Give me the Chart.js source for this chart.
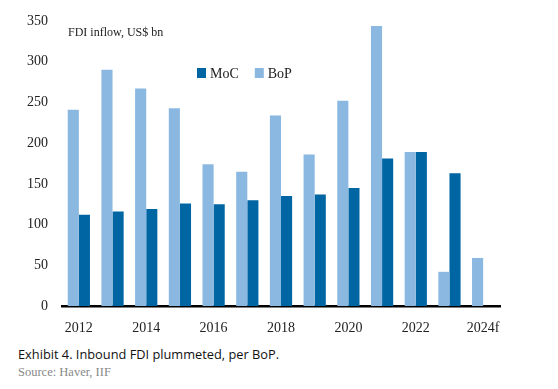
<!DOCTYPE html>
<html lang="en">
<head>
  <meta charset="UTF-8" />
  <title>Inbound FDI</title>
  <script src="https://cdn.jsdelivr.net/npm/chart.js@4.4.1/dist/chart.umd.min.js"></script>
  <style>
    body {
      margin: 0;
      background: #fff;
      width: 558px;
      height: 389px;
      position: relative;
      overflow: hidden;
    }
    .chart-box {
      position: absolute;
      left: 0;
      top: 0;
      width: 558px;
      height: 340px;
    }
    .unit {
      position: absolute;
      left: 68px;
      top: 25px;
      font: 12px 'Liberation Serif', serif;
      color: #222;
    }
    .caption {
      position: absolute;
      left: 18px;
      top: 345px;
      font: 12.8px 'Open Sans', sans-serif;
      color: #111;
    }
    .source {
      position: absolute;
      left: 18px;
      top: 365px;
      font: 12.5px 'Liberation Serif', serif;
      color: #888;
    }
  </style>
</head>
<body>
  <div class="chart-box"><canvas id="fdiChart"></canvas></div>
  <div class="unit">FDI inflow, US$ bn</div>
  <div class="caption">Exhibit 4. Inbound FDI plummeted, per BoP.</div>
  <div class="source">Source: Haver, IIF</div>

  <script>
    // data (US$ bn)
    const years = ['2012', '2013', '2014', '2015', '2016', '2017', '2018', '2019', '2020', '2021', '2022', '2023', '2024f'];
    const bop = [241, 290, 267, 243, 174, 165, 234, 186, 252, 344, 189, 42, 59];
    const moc = [112, 116, 119, 126, 125, 130, 135, 137, 145, 181, 189, 163, null];
    const yTicks = [0, 50, 100, 150, 200, 250, 300, 350];

    const lightBlue = '#8ab8e0';
    const darkBlue = '#0065a3';

    // legend drawn inside the plot, MoC first like the original
    const innerLegend = {
      id: 'innerLegend',
      afterDraw(chart) {
        const c = chart.ctx;
        const items = chart.data.datasets.slice().reverse();
        let x = 197;
        const y = 73;
        c.save();
        c.font = '14px "Liberation Serif", serif';
        c.textBaseline = 'middle';
        items.forEach(ds => {
          c.fillStyle = ds.backgroundColor;
          c.fillRect(x, y - 5, 9, 10);
          c.fillStyle = '#222';
          c.fillText(ds.label, x + 13, y + 1);
          x += 13 + c.measureText(ds.label).width + 16;
        });
        c.restore();
      }
    };

    new Chart(document.getElementById('fdiChart'), {
      type: 'bar',
      data: {
        labels: years,
        datasets: [
          { label: 'BoP', data: bop, backgroundColor: lightBlue },
          { label: 'MoC', data: moc, backgroundColor: darkBlue }
        ]
      },
      options: {
        responsive: true,
        maintainAspectRatio: false,
        animation: false,
        layout: { padding: { top: 21, right: 58, bottom: 0, left: 0 } },
        datasets: {
          bar: { categoryPercentage: 0.66, barPercentage: 1.0 }
        },
        plugins: {
          legend: { display: false },
          tooltip: { enabled: false }
        },
        scales: {
          x: {
            grid: { display: false },
            border: { display: true, color: '#000', width: 2.5 },
            ticks: {
              autoSkip: false,
              maxRotation: 0,
              color: '#222',
              padding: 6,
              font: { family: 'Liberation Serif', size: 14 },
              callback: function(value, index) {
                return index % 2 === 0 ? years[index] : '';
              }
            },
            afterFit(scale) { scale.height = 34; }
          },
          y: {
            min: 0,
            max: 350,
            afterBuildTicks(scale) {
              scale.ticks = yTicks.map(v => ({ value: v }));
            },
            grid: { display: false },
            border: { display: false },
            ticks: {
              color: '#222',
              padding: 6,
              font: { family: 'Liberation Serif', size: 14 }
            },
            afterFit(scale) { scale.width = 62; }
          }
        }
      },
      plugins: [innerLegend]
    });
  </script>
</body>
</html>
